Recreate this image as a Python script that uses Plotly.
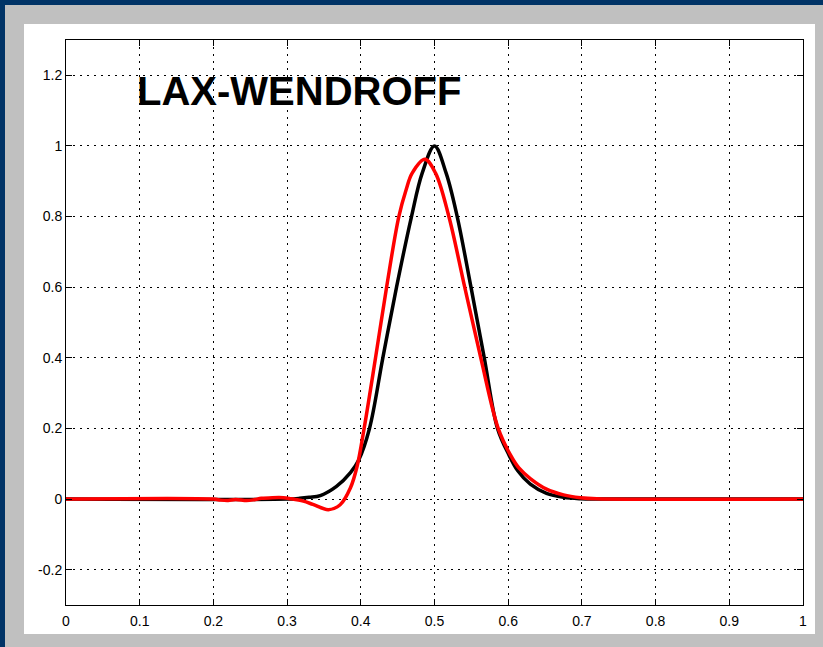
import plotly.graph_objects as go

# Exact solution (black)
exact_x = [0.0, 0.30, 0.317, 0.33, 0.345, 0.367, 0.386, 0.397, 0.4118, 0.4299,
           0.4485, 0.4688, 0.4833, 0.5, 0.5158, 0.5308, 0.5495,
           0.5675, 0.5855, 0.601, 0.613, 0.63, 0.652, 0.675, 0.698, 0.72, 1.0]
exact_y = [0.0, 0.0, 0.002, 0.005, 0.01, 0.036, 0.075, 0.11, 0.2, 0.4,
           0.6, 0.8, 0.923, 1.0, 0.923, 0.8, 0.6,
           0.4, 0.2, 0.125, 0.08, 0.042, 0.016, 0.005, 0.001, 0.0, 0.0]

# Lax-Wendroff numerical solution (red)
lw_x = [0.0, 0.2, 0.21, 0.22, 0.23, 0.245, 0.255, 0.265, 0.28, 0.295, 0.305, 0.322,
        0.335, 0.356, 0.372, 0.386, 0.395, 0.4045, 0.42, 0.435,
        0.4516, 0.4615, 0.4697, 0.4869, 0.5014, 0.5195, 0.541,
        0.5628, 0.5864, 0.603, 0.6145, 0.63, 0.652, 0.675, 0.698, 0.72, 1.0]
lw_y = [0.0, 0.0, -0.003, -0.004, -0.001, -0.004, -0.002, 0.002, 0.004, 0.004, 0.001,
        -0.006, -0.015, -0.03, -0.016, 0.032, 0.093, 0.2, 0.4, 0.6,
        0.8, 0.876, 0.923, 0.962, 0.923, 0.8, 0.6,
        0.4, 0.2, 0.125, 0.088, 0.058, 0.028, 0.012, 0.004, 0.001, 0.0]

x_ticks = [0, 0.1, 0.2, 0.3, 0.4, 0.5, 0.6, 0.7, 0.8, 0.9, 1]
x_labels = ["0", "0.1", "0.2", "0.3", "0.4", "0.5", "0.6", "0.7", "0.8", "0.9", "1"]
y_ticks = [-0.2, 0, 0.2, 0.4, 0.6, 0.8, 1.0, 1.2]
y_labels = ["-0.2", "0", "0.2", "0.4", "0.6", "0.8", "1", "1.2"]

title_text = "LAX-WENDROFF"

fig = go.Figure()
fig.add_trace(go.Scatter(x=exact_x, y=exact_y, mode="lines",
                         line=dict(color="black", width=3.5, shape="spline", smoothing=1.0),
                         showlegend=False, hoverinfo="skip"))
fig.add_trace(go.Scatter(x=lw_x, y=lw_y, mode="lines",
                         line=dict(color="#ff0000", width=3.5, shape="spline", smoothing=1.0),
                         showlegend=False, hoverinfo="skip"))

W, H = 823, 647
L, R, T, B = 66, 20, 40, 42
pw, ph = W - L - R, H - T - B

def px(xp):
    return (xp - L) / pw

def py(yp):
    return (H - B - yp) / ph

fig.add_shape(type="rect", xref="paper", yref="paper",
              x0=px(5), x1=px(830), y0=py(655), y1=py(5),
              fillcolor="#c0c0c0", line=dict(width=0), layer="below")
fig.add_shape(type="rect", xref="paper", yref="paper",
              x0=px(24), x1=px(815), y0=py(634), y1=py(24),
              fillcolor="white", line=dict(width=0), layer="below")

fig.add_annotation(x=0.3165, y=1.157, xref="x", yref="y", text="<b>" + title_text + "</b>",
                   showarrow=False, font=dict(family="Liberation Sans, Arial", size=40, color="black"))

axis_common = dict(showgrid=True, gridcolor="black", gridwidth=1, griddash="2px,5px",
                   zeroline=False, showline=True, linecolor="black", linewidth=1,
                   mirror="ticks", ticks="inside", ticklen=6, tickcolor="black", tickwidth=1,
                   tickfont=dict(family="Liberation Sans, Arial", size=14, color="black"))

fig.update_xaxes(range=[0, 1], tickvals=x_ticks, ticktext=x_labels, ticklabelstandoff=3,
                 **axis_common)
fig.update_yaxes(range=[-0.3, 1.3], tickvals=y_ticks, ticktext=y_labels, **axis_common)

fig.update_layout(width=W, height=H, margin=dict(l=L, r=R, t=T, b=B),
                  paper_bgcolor="#003366", plot_bgcolor="white")

fig.write_html("out.html")
